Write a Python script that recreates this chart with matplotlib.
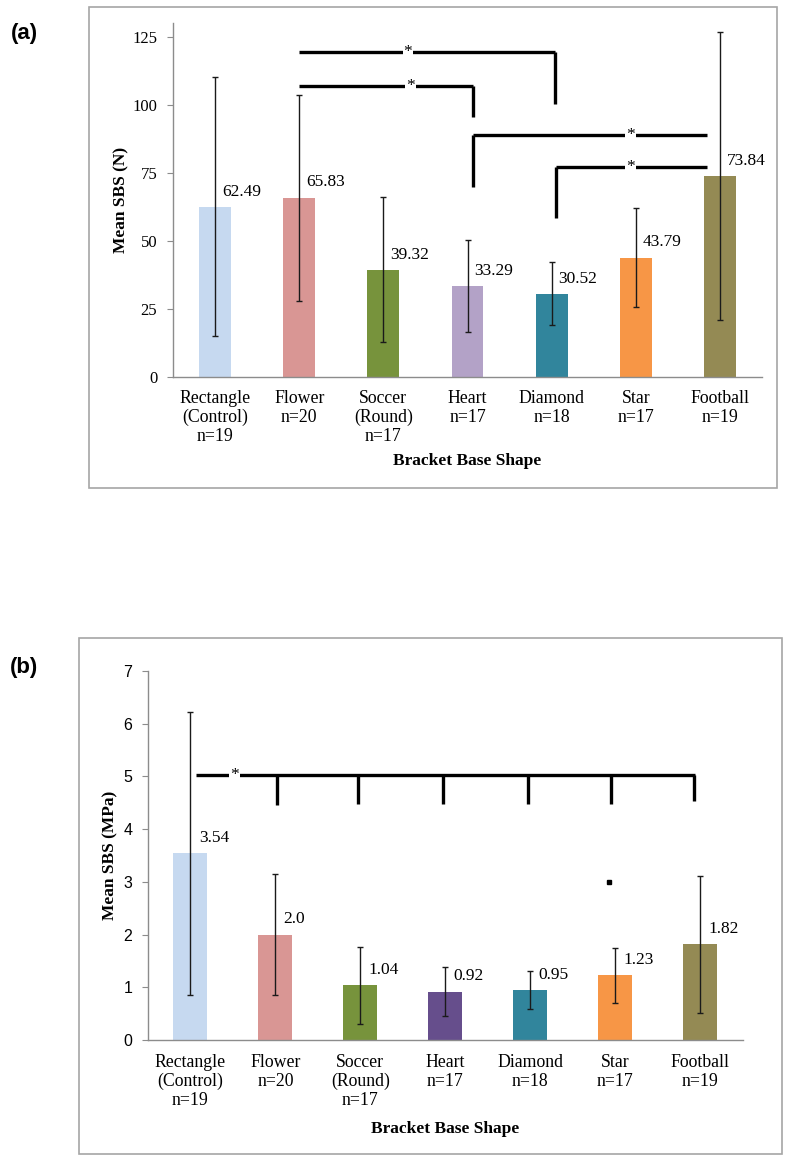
import matplotlib
matplotlib.use("Agg")
import matplotlib.pyplot as plt
from matplotlib.patches import Rectangle

# ---------------- data ----------------
categories = ["Rectangle\n(Control)\nn=19", "Flower\nn=20", "Soccer\n(Round)\nn=17",
              "Heart\nn=17", "Diamond\nn=18", "Star\nn=17", "Football\nn=19"]
mean_n = [62.49, 65.83, 39.32, 33.29, 30.52, 43.79, 73.84]
sd_n = [47.6, 37.8, 26.6, 16.9, 11.6, 18.25, 53.0]
labels_n = ["62.49", "65.83", "39.32", "33.29", "30.52", "43.79", "73.84"]
mean_mpa = [3.54, 2.00, 1.04, 0.92, 0.95, 1.23, 1.82]
sd_mpa = [2.69, 1.15, 0.73, 0.46, 0.36, 0.52, 1.30]
labels_mpa = ["3.54", "2.0", "1.04", "0.92", "0.95", "1.23", "1.82"]
colors_a = ["#C6D9F0", "#D99694", "#77933C", "#B3A2C7", "#31859C", "#F79646", "#948A54"]
colors_b = ["#C6D9F0", "#D99694", "#77933C", "#664E8C", "#31859C", "#F79646", "#948A54"]
yticks_a = [0, 25, 50, 75, 100, 125]
yticks_b = [0, 1, 2, 3, 4, 5, 6, 7]

# significance brackets (panel a): (x_start, x_end, y, drop_x, drop_to, star_x)
brackets_a = [
    (1.0, 4.04, 119.2, 4.04, 100.3, 2.29),
    (1.0, 3.07, 106.9, 3.07, 95.4, 2.32),
    (3.07, 5.85, 89.0, 3.07, 69.7, 4.94),
    (4.05, 5.85, 77.2, 4.05, 58.4, 4.94),
]
# panel b: one bracket with several drops
bracket_b_y = 5.03
bracket_b_span = (0.07, 5.94)
bracket_b_drops = [(1.02, 4.46), (1.97, 4.48), (2.97, 4.47), (3.98, 4.47), (4.95, 4.48), (5.93, 4.53)]
bracket_b_star = 0.52
dot_b = (4.93, 2.99)

W, H = 790, 1160
fig = plt.figure(figsize=(W / 100, H / 100), dpi=100)

SERIF = ["Liberation Serif", "DejaVu Serif"]
SANS = ["Liberation Sans", "DejaVu Sans"]
AXC = "#8C8C8C"


def ax_rect(l, t, r, b):
    return [l / W, 1 - b / H, (r - l) / W, (b - t) / H]


def frame(l, t, r, b):
    fig.patches.append(Rectangle((l / W, 1 - b / H), (r - l) / W, (b - t) / H,
                                 transform=fig.transFigure, fill=False,
                                 edgecolor="#A6A6A6", linewidth=1.2))


def setup(ax, ylim, yticks, tickfont, tickfs):
    ax.set_xlim(-0.5, 6.5)
    ax.set_ylim(*ylim)
    for s in ["top", "right"]:
        ax.spines[s].set_visible(False)
    for s in ["left", "bottom"]:
        ax.spines[s].set_color(AXC)
        ax.spines[s].set_linewidth(1.0)
    ax.set_yticks(yticks)
    ax.set_yticklabels([str(v) for v in yticks], family=tickfont, fontsize=tickfs)
    ax.tick_params(axis="y", length=4.3, width=0.8, color=AXC, pad=7)
    ax.set_xticks(range(len(categories)))
    ax.set_xticklabels(categories, family=SERIF, fontsize=12.8, linespacing=1.14, va="top")
    ax.patch.set_alpha(0)


xs = list(range(len(categories)))
ekw = dict(ecolor="#1a1a1a", elinewidth=1.0, capsize=2.3, capthick=1.0, zorder=3)

# ---------------- panel (a) ----------------
frame(89, 7, 777, 488)
axa = fig.add_axes(ax_rect(173, 23, 762, 377))
setup(axa, (0, 130), yticks_a, SERIF, 12)
axa.tick_params(axis="x", length=0, pad=9.5)
axa.bar(xs, mean_n, width=0.38, color=colors_a, zorder=2, yerr=sd_n, error_kw=ekw)
for i, (m, lab) in enumerate(zip(mean_n, labels_n)):
    axa.annotate(lab, (i, m), xytext=(5, 11), textcoords="offset points",
                 ha="left", va="center", family=SERIF, fontsize=12.5, zorder=4)
for x0, x1, y, dx, dy, sx in brackets_a:
    axa.plot([x0, x1], [y, y], color="black", lw=2.4, solid_capstyle="butt", zorder=5)
    axa.plot([dx, dx], [y, dy], color="black", lw=2.4, solid_capstyle="butt", zorder=5)
    axa.text(sx, y, "*", ha="center", va="center", fontsize=12.5, family=SERIF,
             bbox=dict(boxstyle="square,pad=0.05", fc="white", ec="none"), zorder=6)
axa.text((121 - 173) / 589, 0.5, "Mean SBS (N)", transform=axa.transAxes, rotation=90,
         ha="center", va="center", family=SERIF, fontsize=12.5, fontweight="bold")
axa.text(0.5, -(461 - 377) / 354, "Bracket Base Shape", transform=axa.transAxes, ha="center",
         va="center", family=SERIF, fontsize=12.5, fontweight="bold")
fig.text(24 / W, 1 - 34 / H, "(a)", ha="center", va="center", family=SANS, fontsize=16, fontweight="bold")

# ---------------- panel (b) ----------------
frame(79, 638, 782, 1154)
axb = fig.add_axes(ax_rect(148, 671, 742.5, 1040))
setup(axb, (0, 7), yticks_b, SANS, 11.5)
axb.tick_params(axis="x", length=0, pad=10)
axb.bar(xs, mean_mpa, width=0.4, color=colors_b, zorder=2, yerr=sd_mpa, error_kw=ekw)
for i, (m, lab) in enumerate(zip(mean_mpa, labels_mpa)):
    axb.annotate(lab, (i, m), xytext=(6, 11), textcoords="offset points",
                 ha="left", va="center", family=SERIF, fontsize=12.5, zorder=4)
axb.plot(list(bracket_b_span), [bracket_b_y, bracket_b_y], color="black", lw=2.4,
         solid_capstyle="butt", zorder=5)
for dx, dy in bracket_b_drops:
    axb.plot([dx, dx], [bracket_b_y, dy], color="black", lw=2.4, solid_capstyle="butt", zorder=5)
axb.text(bracket_b_star, bracket_b_y, "*", ha="center", va="center", fontsize=12.5, family=SERIF,
         bbox=dict(boxstyle="square,pad=0.05", fc="white", ec="none"), zorder=6)
axb.plot([dot_b[0]], [dot_b[1]], marker="s", color="black", markersize=3, zorder=5)
axb.text((110 - 148) / 594.5, 0.5, "Mean SBS (MPa)", transform=axb.transAxes, rotation=90,
         ha="center", va="center", family=SERIF, fontsize=12.5, fontweight="bold")
axb.text(0.5, -(1129 - 1040) / 369, "Bracket Base Shape", transform=axb.transAxes, ha="center",
         va="center", family=SERIF, fontsize=12.5, fontweight="bold")
fig.text(24 / W, 1 - 667 / H, "(b)", ha="center", va="center", family=SANS, fontsize=16, fontweight="bold")

fig.savefig("out.png", dpi=100, facecolor="white")
